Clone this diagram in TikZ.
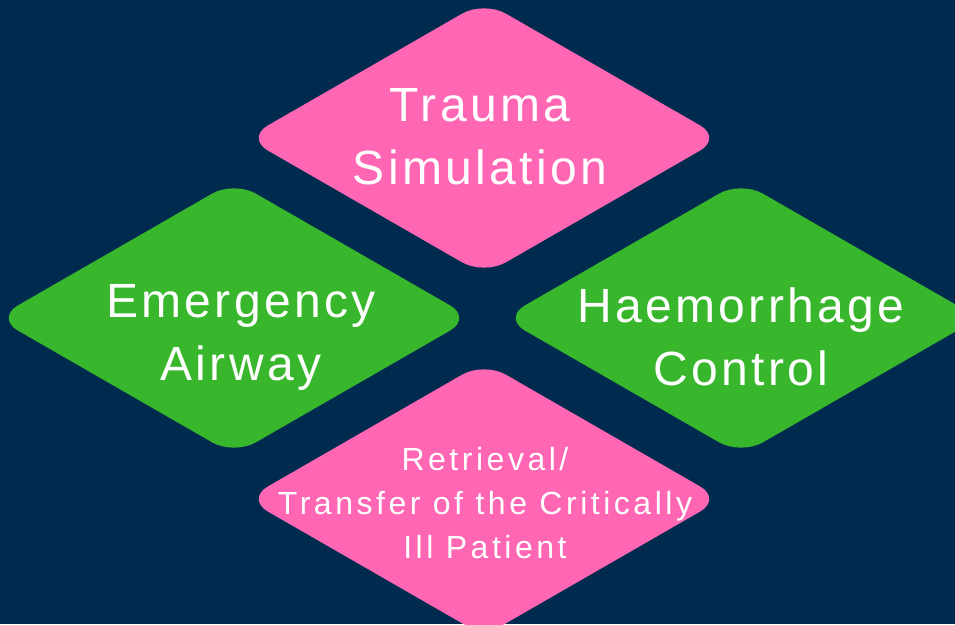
\documentclass[tikz,border=0pt]{standalone}
\usepackage{fontspec}
\setmainfont{Liberation Sans}[LetterSpace=7]
\usetikzlibrary{shapes.geometric}
\definecolor{navy}{RGB}{0,43,79}
\definecolor{rose}{RGB}{255,102,179}
\definecolor{leaf}{RGB}{56,183,44}

\begin{document}
\begin{tikzpicture}[x=1pt,y=1pt,
    tile/.style={diamond,aspect=1.737,minimum width=476pt,minimum height=274pt,
        inner sep=0pt,rounded corners=25pt},
    big/.style={text=white,align=center,font=\fontsize{48}{63}\selectfont},
    small/.style={text=white,align=center,
        font=\fontsize{32}{44}\selectfont\addfontfeature{LetterSpace=11}}]
    % Draw background
    \useasboundingbox (0,0) rectangle (955,624);
    \fill[navy] (0,0) rectangle (955,624);
    % Draw the four diamonds
    \node[tile,fill=rose] (trauma) at (484,486) {};
    \node[tile,fill=leaf] (airway) at (234,306) {};
    \node[tile,fill=leaf] (bleed) at (741,306) {};
    \node[tile,fill=rose] (retrieval) at (484,125) {};
    % Labels
    \node[big] (trauma_lbl) at ([xshift=-4pt,yshift=1pt]trauma) {Trauma\\Simulation};
    \node[big] (airway_lbl) at ([xshift=7pt,yshift=-19pt]airway) {Emergency\\Airway};
    \node[big] (bleed_lbl) at ([yshift=-19pt]bleed) {Haemorrhage\\Control};
    \node[small] (retrieval_lbl) at ([xshift=1pt,yshift=-4pt]retrieval)
        {Retrieval/\\Transfer of the Critically\\Ill Patient};
\end{tikzpicture}
\end{document}
